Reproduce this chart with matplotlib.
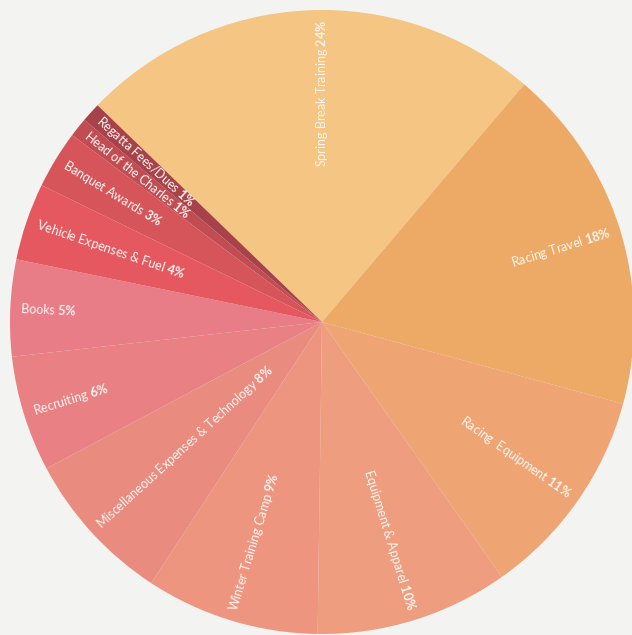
import numpy as np
import matplotlib.pyplot as plt

plt.rcParams['font.family'] = ['Lato', 'DejaVu Sans']
plt.rcParams['mathtext.fontset'] = 'custom'
plt.rcParams['mathtext.rm'] = 'Lato'
plt.rcParams['mathtext.bf'] = 'Lato:bold'

# Budget shares (clockwise from the top-left edge)
categories = ['Spring Break Training', 'Racing Travel', 'Racing  Equipment',
              'Equipment & Apparel', 'Winter Training Camp',
              'Miscellaneous Expenses & Technology', 'Recruiting', 'Books',
              'Vehicle Expenses & Fuel', 'Banquet Awards',
              'Head of the Charles', 'Regatta Fees/Dues']
shares = [24, 18, 11, 10, 9, 8, 6, 5, 4, 3, 1, 1]
colors = ['#F4C583', '#EDA966', '#EFA573', '#EE9D7E', '#EE9580', '#EA8B80',
          '#E98184', '#E87C87', '#E5585F', '#D6555A', '#C14C52', '#A8424A']

fig = plt.figure(figsize=(6.32, 6.35), dpi=100)
fig.patch.set_facecolor('#F3F3F1')
ax = fig.add_axes([0, 0, 1, 1])
ax.set_xlim(0, 632)
ax.set_ylim(0, 635)
ax.set_aspect('equal')
ax.axis('off')

cx, cy, R = 322, 313, 312
wedges, _ = ax.pie(shares, colors=colors, startangle=136, counterclock=False,
                   center=(cx, cy), radius=R, frame=True,
                   wedgeprops=dict(linewidth=0))
ax.set_xlim(0, 632)
ax.set_ylim(0, 635)
ax.axis('off')

r_lab = 302
for w, name, val in zip(wedges, categories, shares):
    ang = (w.theta1 + w.theta2) / 2
    if name.startswith('Spring'):
        ang = 90
    a = np.deg2rad(ang)
    x = cx + r_lab * np.cos(a)
    y = cy + r_lab * np.sin(a)
    label = name + r' $\mathbf{' + str(val) + r'\%}$'
    norm = (ang + 180) % 360 - 180
    if -91 <= norm <= 91:
        rot, ha = norm, 'right'
    else:
        rot, ha = norm + 180, 'left'
    ax.text(x, y, label, rotation=rot, rotation_mode='anchor', ha=ha,
            va='center', color='#FDF5F0', fontsize=9)

fig.savefig('out.png', dpi=100, facecolor=fig.get_facecolor())
